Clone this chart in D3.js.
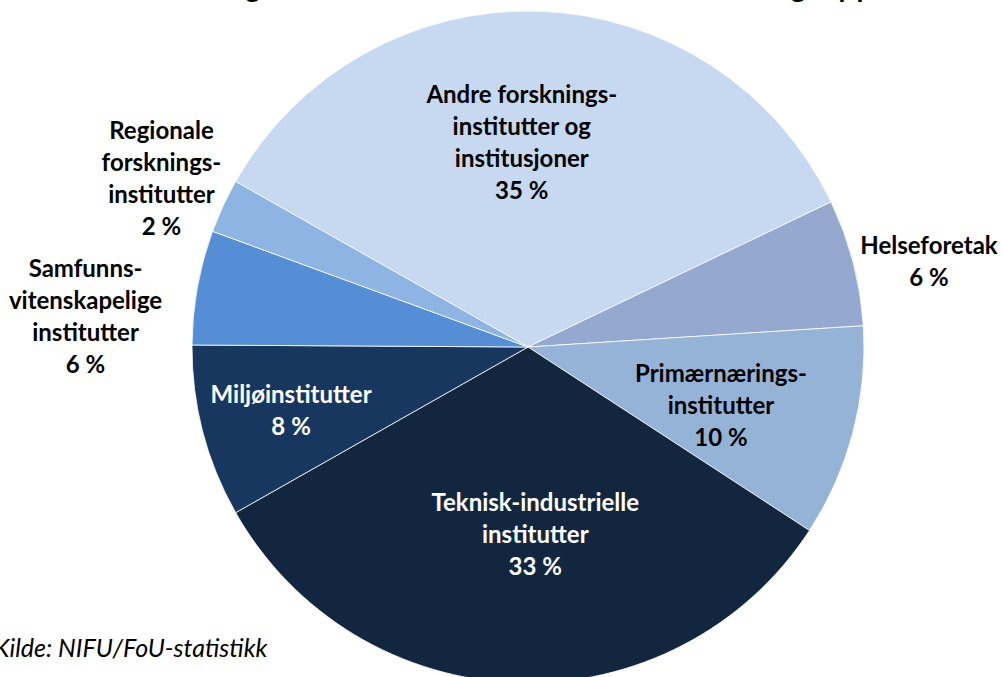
<!DOCTYPE html>
<html>
<head>
<meta charset="utf-8">
<title>FoU-utgifter etter instituttgruppe</title>
<script src="https://cdn.jsdelivr.net/npm/d3@7"></script>
<style>
  body { margin: 0; background: #fff; overflow: hidden; }
  svg { display: block; }
  text { font-family: Lato, "Open Sans", sans-serif; }
</style>
</head>
<body>
<svg id="chart" width="1002" height="677"></svg>
<script>
// data (share in %)
var categories = ["Andre forskningsinstitutter og institusjoner", "Helseforetak", "Primærnæringsinstitutter",
  "Teknisk-industrielle institutter", "Miljøinstitutter", "Samfunnsvitenskapelige institutter",
  "Regionale forskningsinstitutter"];
var values = [34.7, 6.1, 10.2, 32.6, 8.3, 5.5, 2.6];
var valueLabels = ["35 %", "6 %", "10 %", "33 %", "8 %", "6 %", "2 %"];
var labelLines = [
  ["Andre forsknings-", "institutter og", "institusjoner"],
  ["Helseforetak"],
  ["Primærnærings-", "institutter"],
  ["Teknisk-industrielle", "institutter"],
  ["Miljøinstitutter"],
  ["Samfunns-", "vitenskapelige", "institutter"],
  ["Regionale", "forsknings-", "institutter"]
];
var colors = ["#c6d9f1", "#95a8d0", "#95b3d7", "#12263f", "#17375e", "#558ed5", "#8db4e2"];
var labelColors = ["#000", "#000", "#000", "#fff", "#fff", "#000", "#000"];

// label placement: radius factor and angle shift (degrees) from slice middle
var labelRadius = [0.61, 1.22, 0.60, 0.56, 0.73, 1.32, 1.20];
var labelShift = [-3.7, 2.6, 2.1, -4, -0.4, -6.3, -0.2];

var svg = d3.select("#chart");
var cx = 528, cy = 347, R = 336;
var lineH = 32;

// title sits mostly above the top edge, only the bottoms of the letters show
svg.append("text")
  .attr("x", 517).attr("y", -3)
  .attr("text-anchor", "middle")
  .attr("textLength", 745).attr("lengthAdjust", "spacing")
  .style("font-size", "28px").style("font-weight", "bold")
  .text("FoU-utgifter i instituttsektoren etter instituttgruppe");

var start = -60.5 * Math.PI / 180;
var pie = d3.pie().sort(null).startAngle(start).endAngle(start + 2 * Math.PI);
var arc = d3.arc().innerRadius(0).outerRadius(R);
var arcs = pie(values);

var g = svg.append("g").attr("transform", "translate(" + cx + "," + cy + ")");

g.selectAll("path.slice")
  .data(arcs)
  .enter().append("path")
  .attr("class", "slice")
  .attr("d", arc)
  .attr("fill", function(d, i){ return colors[i]; })
  .attr("stroke", "#fff")
  .attr("stroke-width", 0.8);

var labels = g.selectAll("g.lbl")
  .data(arcs)
  .enter().append("g")
  .attr("class", "lbl")
  .attr("transform", function(d, i){
    var a = (d.startAngle + d.endAngle) / 2 + labelShift[i] * Math.PI / 180;
    var r = R * labelRadius[i];
    return "translate(" + (r * Math.sin(a)) + "," + (-r * Math.cos(a)) + ")";
  });

labels.each(function(d, i){
  var lines = labelLines[i].concat([valueLabels[i]]);
  var top = -(lines.length - 1) * lineH / 2;
  var sel = d3.select(this);
  lines.forEach(function(t, k){
    sel.append("text")
      .attr("x", 0)
      .attr("y", top + k * lineH)
      .attr("dy", "0.35em")
      .attr("text-anchor", "middle")
      .attr("fill", labelColors[i])
      .style("font-size", "24px").style("font-weight", "bold")
      .text(t);
  });
});

svg.append("text")
  .attr("x", -6).attr("y", 657)
  .style("font-size", "25px").style("font-style", "italic")
  .text("Kilde: NIFU/FoU-statistikk");
</script>
</body>
</html>
